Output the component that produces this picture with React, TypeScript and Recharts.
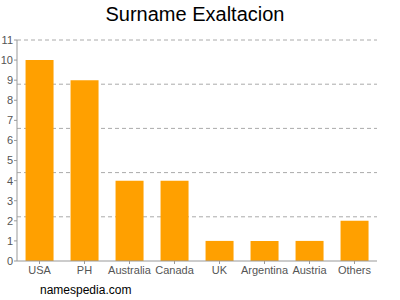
import React from "react";
import { BarChart, Bar, XAxis, YAxis, CartesianGrid } from "recharts";

const countries = ["USA", "PH", "Australia", "Canada", "UK", "Argentina", "Austria", "Others"];
const counts = [10, 9, 4, 4, 1, 1, 1, 2];
const yTicks = [0, 1, 2, 3, 4, 5, 6, 7, 8, 9, 10, 11];
const gridValues = [2.2, 4.4, 6.6, 8.8, 11];

const data = countries.map((c, i) => ({ name: c, value: counts[i] }));

export default function App() {
  return (
    <div style={{ position: "absolute", left: 0, top: 0, width: 400, height: 300, background: "#fff", fontFamily: "'Liberation Sans', Arial, sans-serif" }}>
      <div style={{ position: "absolute", left: -5, top: 3, width: 400, textAlign: "center", fontSize: 20, color: "#000" }}>
        Surname Exaltacion
      </div>
      <BarChart
        width={400}
        height={300}
        data={data}
        margin={{ top: 40, right: 23, left: 0, bottom: 19 }}
        barCategoryGap="19%"
      >
        <CartesianGrid vertical={false} horizontalValues={gridValues} stroke="#aaa" strokeDasharray="4 3" />
        <XAxis
          dataKey="name"
          interval={0}
          tick={{ fontSize: 11, fill: "#555" }}
          tickSize={3}
          tickMargin={2}
          stroke="#999"
          height={20}
        />
        <YAxis
          type="number"
          domain={[0, 11]}
          ticks={yTicks}
          interval={0}
          width={17}
          tick={{ fontSize: 11, fill: "#555" }}
          tickSize={3}
          tickMargin={1}
          stroke="#999"
        />
        <Bar dataKey="value" fill="#ffa000" isAnimationActive={false} />
      </BarChart>
      <div style={{ position: "absolute", left: 40, top: 283, fontSize: 12, color: "#000" }}>namespedia.com</div>
    </div>
  );
}
